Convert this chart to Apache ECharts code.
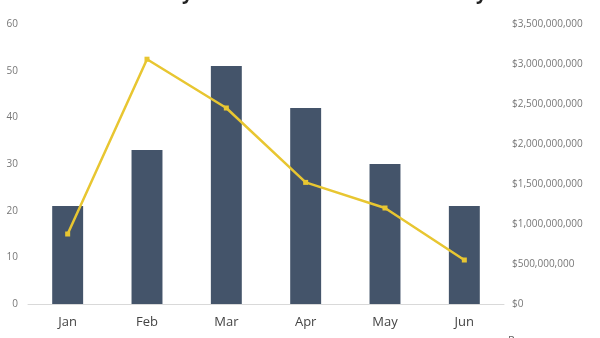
<!DOCTYPE html>
<html>
<head>
<meta charset="utf-8">
<script src="https://cdn.jsdelivr.net/npm/echarts@6/dist/echarts.min.js"></script>
<style>html,body{margin:0;padding:0;background:#fff}#c{width:600px;height:338px}</style>
</head>
<body>
<div id="c"></div>
<script>
var months = ['Jan', 'Feb', 'Mar', 'Apr', 'May', 'Jun'];
var countValues = [21, 33, 51, 42, 30, 21];
var revenueValues = [875000000, 3060000000, 2450000000, 1520000000, 1200000000, 550000000];
var leftTicks = { min: 0, max: 60, interval: 10 };
var rightTicks = { min: 0, max: 3500000000, interval: 500000000 };

function money(v) {
  return '$' + Math.round(v).toString().replace(/\B(?=(\d{3})+(?!\d))/g, ',');
}

var chart = echarts.init(document.getElementById('c'));
chart.setOption({
  animation: false,
  textStyle: { fontFamily: 'Open Sans' },
  title: {
    text: 'Monthly Orders and Revenue Summary',
    left: 'center',
    top: -21,
    textStyle: { fontSize: 19, fontWeight: 'bold', color: '#222', fontFamily: 'Open Sans' }
  },
  legend: {
    data: [{ name: 'Revenue', icon: 'rect' }],
    left: 490,
    top: 335,
    padding: 0,
    itemWidth: 13,
    itemHeight: 3,
    textStyle: { color: '#666', fontSize: 11, verticalAlign: 'top', padding: [4, 0, 0, 0] }
  },
  grid: { left: 28, right: 96, top: 24, bottom: 34, containLabel: false },
  xAxis: {
    type: 'category',
    data: months,
    axisLine: { lineStyle: { color: '#d9d9d9' } },
    axisTick: { show: false },
    axisLabel: { color: '#444', fontSize: 13, margin: 12 }
  },
  yAxis: [
    {
      type: 'value',
      min: leftTicks.min, max: leftTicks.max, interval: leftTicks.interval,
      splitLine: { show: false },
      axisLine: { show: false },
      axisTick: { show: false },
      axisLabel: { color: '#777', fontSize: 10, margin: 10 }
    },
    {
      type: 'value',
      min: rightTicks.min, max: rightTicks.max, interval: rightTicks.interval,
      splitLine: { show: false },
      axisLine: { show: false },
      axisTick: { show: false },
      axisLabel: { color: '#777', fontSize: 10, margin: 8, formatter: money }
    }
  ],
  series: [
    {
      name: 'Count',
      type: 'bar',
      data: countValues,
      barWidth: '39%',
      itemStyle: { color: '#44546A' }
    },
    {
      name: 'Revenue',
      type: 'line',
      yAxisIndex: 1,
      data: revenueValues,
      symbol: 'rect',
      symbolSize: 5,
      lineStyle: { color: '#E8C631', width: 2.5 },
      itemStyle: { color: '#E8C631' }
    }
  ]
});
</script>
</body>
</html>
